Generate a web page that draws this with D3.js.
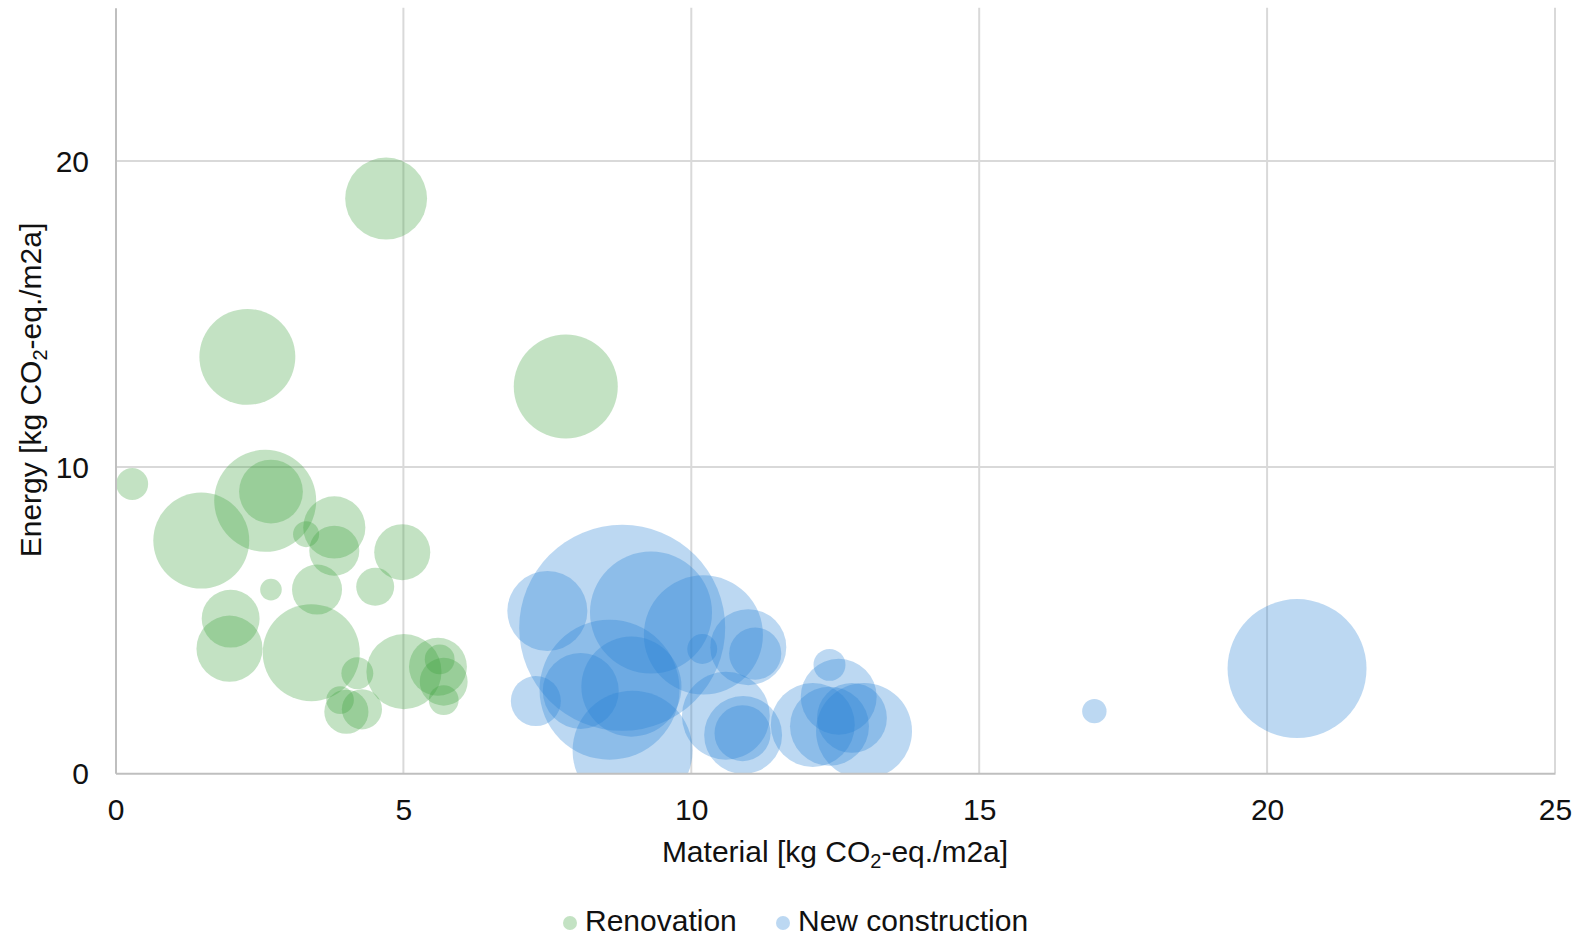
<!DOCTYPE html>
<html>
<head>
<meta charset="utf-8">
<script src="https://cdn.jsdelivr.net/npm/d3@7"></script>
<style>
  html, body { margin: 0; padding: 0; background: #ffffff; }
  svg { display: block; }
  text { font-family: "Liberation Sans", Arial, sans-serif; fill: #111111; }
</style>
</head>
<body>
<svg id="chart" width="1580" height="937"></svg>
<script>
// ---- Data ----
const seriesNames = ["Renovation", "New construction"];

// Renovation: material (x), energy (y), bubble size
const renovationX = [0.29, 1.49, 2.60, 2.70, 3.31, 3.80, 3.80, 4.98, 2.70, 3.50, 4.51, 2.00, 1.98, 3.40, 4.20, 5.01, 3.90, 4.01, 4.28, 5.60, 5.63, 5.70, 5.70, 4.70, 7.82, 2.29];
const renovationY = [9.45, 7.60, 8.90, 9.20, 7.81, 8.03, 7.27, 7.22, 6.00, 6.00, 6.09, 5.05, 4.07, 3.94, 3.27, 3.32, 2.39, 2.01, 2.09, 3.48, 3.72, 2.99, 2.39, 18.77, 12.63, 13.60];
const renovationSize = [2.4, 21.7, 24.5, 9.6, 1.6, 9.1, 5.9, 7.4, 1.1, 5.9, 3.4, 7.9, 10.3, 22.2, 2.4, 13.3, 1.8, 4.6, 3.8, 7.9, 2.1, 5.4, 2.1, 15.8, 25.5, 21.7];

// New construction: material (x), energy (y), bubble size
const newX = [8.80, 7.50, 9.30, 10.21, 10.19, 10.99, 11.11, 8.58, 8.08, 8.96, 7.30, 8.98, 10.60, 10.90, 10.89, 12.40, 12.56, 12.11, 12.40, 12.79, 13.00, 17.00, 20.52];
const newY = [4.75, 5.30, 5.25, 4.52, 4.06, 4.12, 3.91, 2.73, 2.69, 2.83, 2.36, 0.74, 1.88, 1.25, 1.31, 3.54, 2.50, 1.58, 1.54, 1.81, 1.38, 2.03, 3.42];
const newSize = [100, 15.1, 35.1, 33.4, 2.1, 13.6, 6.4, 46.2, 13.6, 23.6, 5.9, 33.9, 18.2, 14.3, 7.4, 2.4, 13.6, 16.6, 14.7, 11.5, 21.7, 1.4, 45.5];

const xTicks = [0, 5, 10, 15, 20, 25];
const yTicks = [0, 10, 20];
const xTitle = ["Material [kg CO", "2", "-eq./m2a]"];
const yTitle = ["Energy [kg CO", "2", "-eq./m2a]"];

// ---- Layout ----
const W = 1580, H = 937;
const plot = { left: 115.5, right: 1555, top: 7.8, bottom: 773.3 };
const colors = { green: "rgb(60,160,60)", blue: "rgb(40,128,212)" };
const alpha = 0.31;
const fontSize = 30;

const svg = d3.select("#chart");

const x = d3.scaleLinear().domain([0, 25]).range([plot.left, plot.right]);
const y = d3.scaleLinear().domain([0, 25]).range([plot.bottom, plot.top]);
const r = d3.scaleSqrt().domain([0, 100]).range([0, 103]);

// Gridlines
const grid = svg.append("g");
grid.selectAll("line.v").data(xTicks.filter(d => d > 0)).join("line")
  .attr("x1", d => x(d)).attr("x2", d => x(d))
  .attr("y1", y(25)).attr("y2", y(0))
  .attr("stroke", "#d9d9d9").attr("stroke-width", 2);
grid.selectAll("line.h").data(yTicks.filter(d => d > 0)).join("line")
  .attr("x1", x(0)).attr("x2", x(25))
  .attr("y1", d => y(d)).attr("y2", d => y(d))
  .attr("stroke", "#d9d9d9").attr("stroke-width", 2);

// Clip for bubbles
svg.append("clipPath").attr("id", "plotClip")
  .append("rect")
  .attr("x", plot.left).attr("y", plot.top)
  .attr("width", plot.right - plot.left).attr("height", plot.bottom - plot.top);

const renovation = renovationX.map((d, i) => ({ x: d, y: renovationY[i], s: renovationSize[i] }));
const newCon = newX.map((d, i) => ({ x: d, y: newY[i], s: newSize[i] }));

const bubbles = svg.append("g").attr("clip-path", "url(#plotClip)");
bubbles.append("g").selectAll("circle").data(renovation).join("circle")
  .attr("cx", d => x(d.x)).attr("cy", d => y(d.y)).attr("r", d => r(d.s))
  .attr("fill", colors.green).attr("fill-opacity", alpha);
bubbles.append("g").selectAll("circle").data(newCon).join("circle")
  .attr("cx", d => x(d.x)).attr("cy", d => y(d.y)).attr("r", d => r(d.s))
  .attr("fill", colors.blue).attr("fill-opacity", alpha);

// Axes
const xAxis = svg.append("g").attr("transform", `translate(0,${plot.bottom})`)
  .call(d3.axisBottom(x).tickValues(xTicks).tickSize(0).tickFormat(d3.format("d")));
xAxis.select(".domain").attr("stroke", "#bfbfbf").attr("stroke-width", 2);
xAxis.selectAll("text").attr("dy", null).attr("y", 820 - plot.bottom)
  .style("font-size", fontSize + "px").style("font-family", "'Liberation Sans', Arial, sans-serif").attr("fill", "#111");

const yAxis = svg.append("g").attr("transform", `translate(${plot.left},0)`)
  .call(d3.axisLeft(y).tickValues(yTicks).tickSize(0).tickFormat(d3.format("d")));
yAxis.select(".domain").attr("stroke", "#bfbfbf").attr("stroke-width", 2);
yAxis.selectAll("text").attr("dy", "0.355em").attr("x", 89 - plot.left)
  .style("font-size", fontSize + "px").style("font-family", "'Liberation Sans', Arial, sans-serif").attr("fill", "#111");

// Axis titles
function titleText(sel, parts) {
  sel.append("tspan").text(parts[0]);
  sel.append("tspan").text(parts[1]).attr("font-size", "20px").attr("dy", "6");
  sel.append("tspan").text(parts[2]).attr("dy", "-6");
}
const xt = svg.append("text")
  .attr("x", 835).attr("y", 862)
  .attr("text-anchor", "middle").attr("font-size", fontSize + "px");
titleText(xt, xTitle);

const yt = svg.append("text")
  .attr("transform", `translate(41,390) rotate(-90)`)
  .attr("text-anchor", "middle").attr("font-size", fontSize + "px");
titleText(yt, yTitle);

// Legend
const legend = svg.append("g");
const legendItems = [
  { name: seriesNames[0], color: colors.green, cx: 570, tx: 585 },
  { name: seriesNames[1], color: colors.blue, cx: 783, tx: 798 }
];
legendItems.forEach(it => {
  legend.append("circle").attr("cx", it.cx).attr("cy", 923).attr("r", 7)
    .attr("fill", it.color).attr("fill-opacity", alpha);
  legend.append("text").attr("x", it.tx).attr("y", 930.5).attr("font-size", fontSize + "px").text(it.name);
});
</script>
</body>
</html>
